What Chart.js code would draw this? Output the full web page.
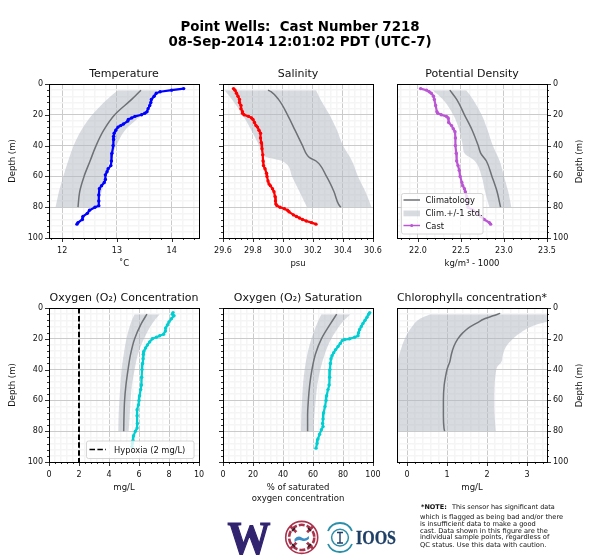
<!DOCTYPE html>
<html>
<head>
<meta charset="utf-8">
<script src="https://cdn.jsdelivr.net/npm/chart.js@4/dist/chart.umd.min.js"></script>
<style>
  body { margin: 0; background: #fff; width: 600px; height: 560px; overflow: hidden; position: relative; }
  canvas { position: absolute; }
  svg { position: absolute; left: 0; top: 0; font-family: "DejaVu Sans"; z-index: 5; }
</style>
</head>
<body>
<canvas id="temp"></canvas>
<canvas id="sal"></canvas>
<canvas id="dens"></canvas>
<canvas id="oxy"></canvas>
<canvas id="sat"></canvas>
<canvas id="chl"></canvas>

<svg width="600" height="560" viewBox="0 0 600 560">
  <text x="300" y="31" text-anchor="middle" font-weight="bold" font-size="13.4" fill="#000" style="white-space:pre">Point Wells:  Cast Number 7218</text>
  <text x="300" y="46" text-anchor="middle" font-weight="bold" font-size="13.4" fill="#000">08-Sep-2014 12:01:02 PDT (UTC-7)</text>

  <!-- right hand axis titles read upward, chart.js turns them the other way -->
  <text transform="translate(582 161.5) rotate(-90)" text-anchor="middle" font-size="8.5" fill="#111">Depth (m)</text>
  <text transform="translate(582 385.5) rotate(-90)" text-anchor="middle" font-size="8.5" fill="#111">Depth (m)</text>

  <!-- density legend -->
  <rect x="401.5" y="193.5" width="81.5" height="40.5" rx="2" fill="#fff" fill-opacity="0.8" stroke="#ccc" stroke-width="0.8"/>
  <line x1="403.5" x2="420" y1="200" y2="200" stroke="#6e7276" stroke-width="1.5"/>
  <rect x="403.5" y="210.5" width="16.5" height="5.8" fill="#b2b9c3" fill-opacity="0.5"/>
  <line x1="403.5" x2="420" y1="225.5" y2="225.5" stroke="#ba55d3" stroke-width="1.5"/>
  <circle cx="411.7" cy="225.5" r="1.5" fill="#ba55d3"/>
  <text x="425.5" y="203" font-size="8.3" fill="#111">Climatology</text>
  <text x="425.5" y="216" font-size="8.3" fill="#111">Clim.+/-1 std.</text>
  <text x="425.5" y="228.5" font-size="8.3" fill="#111">Cast</text>

  <!-- hypoxia legend -->
  <rect x="86.5" y="441" width="107.5" height="17.5" rx="2" fill="#fff" fill-opacity="0.8" stroke="#ccc" stroke-width="0.8"/>
  <line x1="89.5" x2="106" y1="449.5" y2="449.5" stroke="#000" stroke-width="1.5" stroke-dasharray="5.5 2.4"/>
  <text x="114" y="452.5" font-size="8.3" fill="#111">Hypoxia (2 mg/L)</text>

  <!-- logos -->
  <text x="249" y="554" text-anchor="middle" font-family="Liberation Serif" font-weight="bold" font-size="46" textLength="43" lengthAdjust="spacingAndGlyphs" fill="#32246f" stroke="#32246f" stroke-width="1.2">W</text>
  <circle cx="301.7" cy="537.4" r="16" fill="#fff" stroke="#a9334c" stroke-width="1.6"/>
  <circle cx="301.7" cy="537.4" r="12.6" fill="none" stroke="#a9334c" stroke-width="2.6" stroke-dasharray="6 2"/>
  <path d="M290.5 526.5 L313 548.5 M313 526.5 L290.5 548.5" stroke="#a9334c" stroke-width="2.6"/>
  <path d="M292 531 l3 -3 M311 544 l-3 3 M311 531 l-3 -3 M292 544 l3 3" stroke="#222" stroke-width="1.6"/>
  <circle cx="301.7" cy="537.4" r="7.6" fill="#fff"/>
  <path d="M294.5 539 q3.6 -4 7.2 -1.5 t7.2 -1.5 v3 q-3.6 3 -7.2 1.5 t-7.2 1.5 z" fill="#3b8fc4"/>
  <circle cx="340" cy="537.6" r="8.4" fill="none" stroke="#2a8fa8" stroke-width="1.5"/>
  <path d="M328 531 A13 13 0 0 1 352 531 M352 544 A13 13 0 0 1 328 544" fill="none" stroke="#2a8fa8" stroke-width="1.8"/>
  <path d="M340 532.5 V543 M337 532.5 H343 M337 543 H343" stroke="#1d3f66" stroke-width="1.4"/>
  <text x="356" y="543.5" font-family="Liberation Serif" font-weight="bold" font-size="18" textLength="40" lengthAdjust="spacingAndGlyphs" fill="#1d3f66" stroke="#1d3f66" stroke-width="0.3">IOOS</text>

  <!-- note -->
  <text x="421" y="509" font-size="6.5" fill="#111"><tspan font-weight="bold">*NOTE:</tspan><tspan x="452">This sensor has significant data</tspan></text>
  <text x="420" y="519" font-size="6.7" fill="#111">which is flagged as being bad and/or there</text>
  <text x="420" y="525.5" font-size="6.7" fill="#111">is insufficient data to make a good</text>
  <text x="420" y="532.5" font-size="6.7" fill="#111">cast. Data shown in this figure are the</text>
  <text x="420" y="539" font-size="6.7" fill="#111">individual sample points, regardless of</text>
  <text x="420" y="547" font-size="6.7" fill="#111">QC status. Use this data with caution.</text>
</svg>

<script>
// climatology depths shared by the band and mean lines
const climDepth = [4, 10, 20, 30, 40, 50, 60, 70, 80];

// temperature
const tempCastDepth = [3, 4, 5, 6, 8, 10, 12, 14, 16, 18, 19, 20, 21, 22, 23, 24, 26, 27, 28, 30, 32, 34, 36, 40, 45, 50, 53, 55, 57, 59, 62, 64, 66, 68, 72, 76, 79, 80, 82, 84, 86, 88, 90, 91];
const tempCast = [14.22, 14.0, 13.79, 13.72, 13.68, 13.63, 13.62, 13.6, 13.57, 13.55, 13.51, 13.45, 13.33, 13.27, 13.21, 13.2, 13.12, 13.07, 13.02, 12.98, 12.95, 12.94, 12.94, 12.93, 12.91, 12.9, 12.89, 12.84, 12.82, 12.79, 12.79, 12.77, 12.72, 12.68, 12.67, 12.67, 12.67, 12.6, 12.5, 12.46, 12.38, 12.37, 12.29, 12.27];
const tempClim = [13.44, 13.27, 12.96, 12.76, 12.62, 12.51, 12.4, 12.32, 12.29];
const tempLow = [13.02, 12.82, 12.55, 12.35, 12.21, 12.11, 12.02, 11.94, 11.88];
const tempHigh = [13.73, 13.63, 13.45, 13.15, 12.99, 12.87, 12.8, 12.72, 12.66];

// salinity
const salCastDepth = [3, 4, 6, 8, 10, 12, 14, 16, 18, 19, 20, 21, 22, 23, 25, 27, 28, 30, 32, 35, 38, 42, 46, 50, 53, 55, 58, 60, 63, 65, 66, 68, 70, 73, 76, 78, 79, 80, 81, 82, 83, 85, 86, 87, 88, 89, 90, 91];
const salCast = [29.67, 29.68, 29.69, 29.7, 29.71, 29.71, 29.72, 29.72, 29.73, 29.73, 29.74, 29.77, 29.79, 29.8, 29.81, 29.82, 29.83, 29.84, 29.85, 29.85, 29.855, 29.86, 29.865, 29.867, 29.87, 29.88, 29.89, 29.893, 29.9, 29.907, 29.916, 29.93, 29.94, 29.947, 29.95, 29.953, 29.96, 29.98, 30.01, 30.03, 30.04, 30.07, 30.09, 30.11, 30.13, 30.155, 30.19, 30.22];
const salClimDepth = [4, 5, 10, 20, 30, 40, 46, 48, 50, 60, 70, 78, 80];
const salClim = [29.9, 29.92, 29.97, 30.03, 30.08, 30.13, 30.16, 30.18, 30.22, 30.29, 30.34, 30.37, 30.385];
const salLowDepth = [4, 10, 20, 43, 47, 50, 60, 70, 80];
const salLow = [29.61, 29.66, 29.73, 29.855, 29.88, 29.995, 30.06, 30.11, 30.16];
const salHighDepth = [4, 10, 20, 30, 40, 50, 60, 70, 80];
const salHigh = [30.22, 30.25, 30.31, 30.36, 30.4, 30.46, 30.5, 30.55, 30.59];

// potential density
const densCastDepth = [3, 4, 5, 6, 8, 10, 14, 18, 19, 20, 21, 22, 25, 27, 29, 31, 35, 40, 45, 50, 53, 56, 60, 64, 66, 68, 70, 73, 76, 80, 82, 84, 86, 88, 90, 91];
const densCast = [22.03, 22.1, 22.13, 22.155, 22.18, 22.19, 22.205, 22.22, 22.23, 22.27, 22.33, 22.35, 22.357, 22.39, 22.41, 22.43, 22.435, 22.435, 22.445, 22.45, 22.465, 22.48, 22.49, 22.51, 22.52, 22.54, 22.55, 22.565, 22.57, 22.58, 22.64, 22.69, 22.73, 22.77, 22.83, 22.845];
const densClimDepth = [4, 10, 20, 30, 40, 45, 50, 60, 70, 80];
const densClim = [22.37, 22.45, 22.54, 22.63, 22.7, 22.73, 22.795, 22.86, 22.92, 22.96];
const densLowDepth = [4, 10, 20, 30, 40, 45, 50, 60, 70, 80];
const densLow = [22.17, 22.29, 22.41, 22.48, 22.52, 22.54, 22.66, 22.74, 22.78, 22.83];
const densHigh = [22.56, 22.64, 22.74, 22.81, 22.87, 22.91, 22.95, 23.0, 23.05, 23.085];

// oxygen concentration
const oxyCastDepth = [3, 4, 5, 7, 9, 11, 13, 15, 17, 18, 19, 20, 22, 24, 26, 28, 30, 33, 36, 40, 45, 50, 53, 57, 60, 63, 66, 70, 75, 78, 80, 83, 86, 88, 90];
const oxyCast = [8.27, 8.22, 8.33, 8.16, 8.0, 7.89, 7.78, 7.76, 7.64, 7.38, 7.16, 6.89, 6.71, 6.56, 6.44, 6.33, 6.29, 6.27, 6.24, 6.2, 6.18, 6.16, 6.11, 6.04, 6.0, 5.96, 5.87, 5.87, 5.89, 5.87, 5.76, 5.64, 5.6, 5.56, 5.53];
const oxyClim = [6.53, 6.16, 5.71, 5.44, 5.27, 5.13, 5.04, 5.0, 4.98];
const oxyLow = [5.71, 5.44, 5.16, 4.98, 4.84, 4.76, 4.69, 4.64, 4.62];
const oxyHigh = [7.38, 6.89, 6.33, 5.93, 5.71, 5.53, 5.44, 5.38, 5.31];
const hypoxiaX = [2, 2];
const hypoxiaDepth = [0, 100];

// oxygen saturation
const satCastDepth = [3, 4, 6, 8, 10, 12, 14, 16, 18, 19, 20, 20.5, 21, 23, 25, 27, 29, 31, 33, 36, 40, 45, 50, 53, 57, 60, 64, 68, 72, 75, 77, 79, 82, 85, 88, 91];
const satCast = [97.8, 97.1, 96, 94.7, 93.3, 92.2, 91.1, 90.4, 90, 87.8, 84.4, 81, 79.6, 78.2, 76.7, 75.1, 73.8, 72.7, 72, 71.6, 71.3, 71.1, 70.7, 70, 69.1, 68.7, 68, 67.1, 66.7, 66.4, 66.7, 65.6, 64.4, 63.3, 62.7, 62];
const satClim = [75.8, 71.8, 65.6, 61.6, 59.3, 57.8, 56.9, 56.4, 56.4];
const satLow = [65.6, 62.7, 58.9, 56.2, 54.4, 53.3, 52.7, 52.2, 52];
const satHigh = [84.9, 78.9, 72.2, 67.8, 64.9, 62.9, 61.8, 60.9, 60.4];

// chlorophyll
const chlClimDepth = [3.5, 5, 7, 10, 13, 16, 20, 25, 30, 35, 37, 40, 45, 50, 60, 70, 78, 80];
const chlClim = [2.33, 2.15, 1.94, 1.73, 1.53, 1.4, 1.27, 1.17, 1.11, 1.07, 1.04, 1.0, 0.96, 0.93, 0.91, 0.91, 0.925, 0.94];
const chlLowDepth = [4, 7, 12, 18, 25, 32, 36, 40, 80];
const chlLow = [0.58, 0.32, 0.13, -0.02, -0.13, -0.21, -0.25, -0.3, -0.35];
const chlHighDepth = [4, 9, 12, 15, 20, 25, 30, 35, 38, 42, 50, 60, 70, 80];
const chlHigh = [4.5, 3.5, 3.11, 2.9, 2.65, 2.48, 2.4, 2.36, 2.26, 2.22, 2.19, 2.18, 2.19, 2.22];

const depthTicks = [0, 20, 40, 60, 80, 100];
const tempTicks = [12, 13, 14];
const salTicks = [29.6, 29.8, 30.0, 30.2, 30.4, 30.6];
const densTicks = [22.0, 22.5, 23.0, 23.5];
const oxyTicks = [0, 2, 4, 6, 8, 10];
const satTicks = [0, 20, 40, 60, 80, 100];
const chlTicks = [0, 1, 2, 3];

const FONT = 'DejaVu Sans';
const BAND = 'rgba(178,185,195,0.5)';
const CLIM = '#6e7276';

// majors plus evenly spaced minors across the axis range
function buildTicks(scale, majors, minorStep) {
  const out = [];
  const start = Math.ceil(scale.min / minorStep - 1e-6);
  for (let i = start; i * minorStep <= scale.max + 1e-6; i++) {
    const v = +(i * minorStep).toFixed(4);
    out.push({ value: v, major: majors.some(m => Math.abs(m - v) < 1e-6) });
  }
  scale.ticks = out;
}

const frame = {
  id: 'frame',
  // centre the title over the plot, not over the padded box
  afterLayout(chart) {
    chart.titleBlock.left = chart.chartArea.left;
    chart.titleBlock.right = chart.chartArea.right;
  },
  afterDraw(chart) {
    const { ctx, chartArea: a, scales } = chart;
    ctx.save();
    ctx.strokeStyle = '#000';
    ctx.lineWidth = 1;
    ctx.strokeRect(a.left + 0.5, a.top + 0.5, a.width, a.height);
    ctx.lineWidth = 0.8;
    ctx.beginPath();
    scales.x.ticks.forEach(t => {
      const p = Math.round(scales.x.getPixelForValue(t.value)) + 0.5;
      ctx.moveTo(p, a.bottom);
      ctx.lineTo(p, a.bottom + (t.major ? 4 : 2));
    });
    const right = scales.y.position === 'right';
    scales.y.ticks.forEach(t => {
      const p = Math.round(scales.y.getPixelForValue(t.value)) + 0.5;
      const len = t.major ? 4 : 2;
      ctx.moveTo(right ? a.right : a.left, p);
      ctx.lineTo(right ? a.right + len : a.left - len, p);
    });
    ctx.stroke();
    ctx.restore();
  }
};

const pts = (xs, ys) => xs.map((x, i) => ({ x, y: ys[i] }));

function bandSets(lowX, lowY, highX, highY, climX, climY) {
  const smooth = { cubicInterpolationMode: 'monotone' };
  return [
    { data: pts(climX, climY), borderColor: CLIM, borderWidth: 1.5, pointRadius: 0, order: 2, ...smooth },
    { data: pts(lowX, lowY), borderWidth: 0, pointRadius: 0, fill: '+1', backgroundColor: BAND, order: 3, ...smooth },
    { data: pts(highX, highY), borderWidth: 0, pointRadius: 0, order: 3, ...smooth }
  ];
}

function castSet(xs, ys, color) {
  return { data: pts(xs, ys), borderColor: color, backgroundColor: color, borderWidth: 2.2, pointRadius: 1.7, pointBorderWidth: 0, order: 1 };
}

function makeChart(id, o) {
  const el = document.getElementById(id);
  const xHeight = o.xHeight || 32;
  el.width = 246;
  el.height = 18 + 154 + xHeight;
  el.style.left = (o.left - 48) + 'px';
  el.style.top = (o.top - 18) + 'px';
  const tickFont = { family: FONT, size: 8 };
  return new Chart(el, {
    type: 'line',
    data: { datasets: o.datasets },
    plugins: [frame],
    options: {
      indexAxis: 'y',
      responsive: false,
      animation: false,
      devicePixelRatio: 1,
      layout: { padding: o.yRight ? { left: 48 } : { right: 48 } },
      plugins: {
        legend: { display: false },
        tooltip: { enabled: false },
        title: {
          display: true,
          text: o.title,
          color: '#111',
          font: { family: FONT, size: 11, weight: 'normal', lineHeight: '14px' },
          padding: { top: 1, bottom: 3 }
        }
      },
      scales: {
        x: {
          type: 'linear',
          position: 'bottom',
          min: o.xMin,
          max: o.xMax,
          afterBuildTicks: s => buildTicks(s, o.xTicks, o.xMinor),
          afterFit: s => { s.height = xHeight; },
          grid: {
            drawTicks: false,
            color: c => (c.tick && c.tick.major ? '#cbcbcb' : '#f5f5f5'),
            lineWidth: c => (c.tick && c.tick.major ? 1 : 1.5)
          },
          border: { display: false },
          ticks: {
            autoSkip: false,
            maxRotation: 0,
            padding: 8,
            color: '#111',
            font: tickFont,
            callback: (v, i, t) => (t[i].major ? o.xFormat(v) : '')
          },
          title: {
            display: true,
            text: o.xLabel,
            color: '#111',
            font: { family: FONT, size: 8.5, lineHeight: o.xHeight ? '11px' : '12px' },
            padding: 0
          }
        },
        y: {
          type: 'linear',
          position: o.yRight ? 'right' : 'left',
          reverse: true,
          min: 0,
          max: 100,
          afterBuildTicks: s => buildTicks(s, depthTicks, 4),
          afterFit: s => { s.width = 48; },
          grid: {
            drawTicks: false,
            color: c => (c.tick && c.tick.major ? '#cbcbcb' : '#f5f5f5'),
            lineWidth: c => (c.tick && c.tick.major ? 1 : 1.5)
          },
          border: { display: false },
          ticks: {
            autoSkip: false,
            padding: 6,
            color: '#111',
            font: tickFont,
            callback: (v, i, t) => (o.yLabels && t[i].major ? String(v) : '')
          },
          title: {
            display: !!o.yLabels && !o.yRight,
            text: 'Depth (m)',
            color: '#111',
            font: { family: FONT, size: 8.5, lineHeight: '12px' },
            padding: { top: 6, bottom: 0 }
          }
        }
      }
    }
  });
}

const int = v => String(v);
const oneDec = v => v.toFixed(1);

makeChart('temp', {
  title: 'Temperature', left: 49, top: 84, xMin: 11.76, xMax: 14.5, xTicks: tempTicks, xMinor: 0.2, xFormat: int, xLabel: '˚C', yLabels: true,
  datasets: [castSet(tempCast, tempCastDepth, '#0000ff'), ...bandSets(tempLow, climDepth, tempHigh, climDepth, tempClim, climDepth)]
});
makeChart('sal', {
  title: 'Salinity', left: 223, top: 84, xMin: 29.6, xMax: 30.6, xTicks: salTicks, xMinor: 0.04, xFormat: oneDec, xLabel: 'psu',
  datasets: [castSet(salCast, salCastDepth, '#ff0000'), ...bandSets(salLow, salLowDepth, salHigh, salHighDepth, salClim, salClimDepth)]
});
makeChart('dens', {
  title: 'Potential Density', left: 397, top: 84, xMin: 21.756, xMax: 23.5, xTicks: densTicks, xMinor: 0.1, xFormat: oneDec, xLabel: 'kg/m³ - 1000', yLabels: true, yRight: true,
  datasets: [castSet(densCast, densCastDepth, '#ba55d3'), ...bandSets(densLow, densLowDepth, densHigh, densLowDepth, densClim, densClimDepth)]
});
makeChart('oxy', {
  title: 'Oxygen (O₂) Concentration', left: 49, top: 308, xMin: 0, xMax: 10, xTicks: oxyTicks, xMinor: 0.4, xFormat: int, xLabel: 'mg/L', yLabels: true,
  datasets: [
    { data: pts(hypoxiaX, hypoxiaDepth), borderColor: '#000', borderWidth: 2, borderDash: [5.5, 2.4], pointRadius: 0, order: 0 },
    castSet(oxyCast, oxyCastDepth, '#00ced1'),
    ...bandSets(oxyLow, climDepth, oxyHigh, climDepth, oxyClim, climDepth)
  ]
});
makeChart('sat', {
  title: 'Oxygen (O₂) Saturation', left: 223, top: 308, xMin: 0, xMax: 100, xTicks: satTicks, xMinor: 4, xFormat: int, xLabel: ['% of saturated', 'oxygen concentration'], xHeight: 42,
  datasets: [castSet(satCast, satCastDepth, '#00ced1'), ...bandSets(satLow, climDepth, satHigh, climDepth, satClim, climDepth)]
});
makeChart('chl', {
  title: 'Chlorophyllₐ concentration*', left: 397, top: 308, xMin: -0.25, xMax: 3.5, xTicks: chlTicks, xMinor: 0.2, xFormat: int, xLabel: 'mg/L', yLabels: true, yRight: true,
  datasets: bandSets(chlLow, chlLowDepth, chlHigh, chlHighDepth, chlClim, chlClimDepth)
});
</script>
</body>
</html>
